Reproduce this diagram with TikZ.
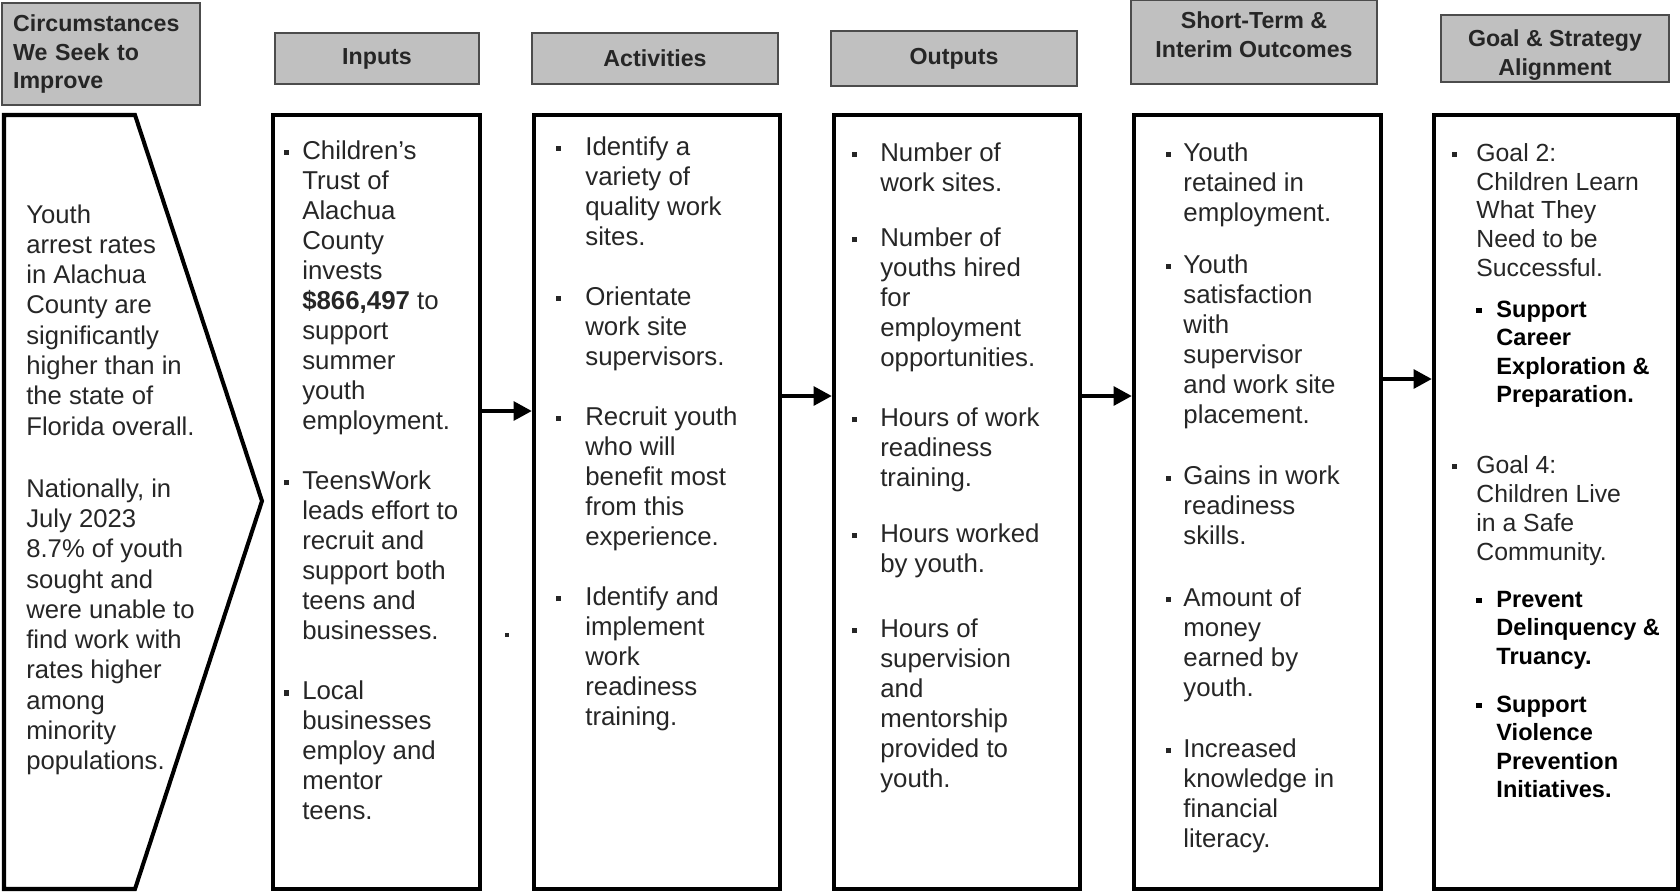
\documentclass[tikz,border=0pt]{standalone}
\usepackage{fontspec}
\setmainfont{Liberation Sans}
\usetikzlibrary{arrows.meta,fit}

\definecolor{hdrgray}{HTML}{C0C0C0}

% small square bullet and a tight bullet list
\newcommand\sqbullet{\rule[2.4pt]{2.9pt}{2.9pt}}
\newenvironment{bullets}[2]{%
  \begin{list}{\sqbullet}{%
    \setlength\leftmargin{#1}%
    \setlength\labelwidth{2.9pt}%
    \setlength\labelsep{\dimexpr#1-2.9pt\relax}%
    \setlength\itemsep{#2}%
    \setlength\parsep{0pt}%
    \setlength\topsep{0pt}%
    \setlength\partopsep{0pt}%
    \setlength\itemindent{0pt}}\raggedright}
  {\end{list}}
% two-line heading lifted by #1 inside its box
\newcommand\liftlines[2]{\raisebox{#1}[\height][\depth]{\begin{tabular}{@{}c@{}}#2\end{tabular}}}

\begin{document}
\begin{tikzpicture}[x=0.02cm, y=-0.02cm,
  hdr/.style={draw=black!70, line width=0.9pt, fill=hdrgray, inner sep=0pt,
    font=\fontsize{13.2}{16.5}\selectfont\bfseries, text=black!85, align=center},
  body/.style={draw=black, line width=2.3pt, inner sep=0pt},
  txt/.style={anchor=base west, inner sep=0pt, text=black!85,
    font=\fontsize{14.7}{17.1}\selectfont},
  flow/.style={line width=2.8pt, -{Triangle[length=10.5pt,width=10.5pt]}}]

	\useasboundingbox (0,0) rectangle (1680,894);

	% column headings
	\node[hdr, minimum width=3.96cm, minimum height=2.04cm, text width=100pt, align=left] (hcirc) at (101,54) {Circumstances\\We Seek to\\Improve};
	\node[hdr, minimum width=4.08cm, minimum height=1.02cm] (hin) at (377,58.5) {Inputs};
	\node[hdr, minimum width=4.92cm, minimum height=1.02cm] (hact) at (655,58.5) {Activities};
	\node[hdr, minimum width=4.92cm, minimum height=1.10cm] (hout) at (954,58.5) {Outputs};
	\node[hdr, minimum width=4.92cm, minimum height=1.68cm] (hst) at (1254,42) {\liftlines{3pt}{Short-Term \&\\Interim Outcomes}};
	\node[hdr, minimum width=4.56cm, minimum height=1.34cm] (hgoal) at (1555,48.5) {\liftlines{-4pt}{Goal \& Strategy\\Alignment}};

	% chevron and column boxes
	\draw[line width=2.3pt, line join=miter] (4,115) -- (135,115) -- (262,501) -- (135,889) -- (4,889) -- cycle;
	\node[body, fit={(273,115) (480,889)}] (bin) {};
	\node[body, fit={(534,115) (780,889)}] (bact) {};
	\node[body, fit={(834,115) (1080,889)}] (bout) {};
	\node[body, fit={(1134,115) (1381,889)}] (bst) {};
	\node[body, fit={(1434,115) (1678,889)}] (bgoal) {};

	\draw[flow] (bin.east |- 0,411) -- (bact.west |- 0,411);
	\draw[flow] (bact.east |- 0,396) -- (bout.west |- 0,396);
	\draw[flow] (bout.east |- 0,396) -- (bst.west |- 0,396);
	\draw[flow] (bst.east |- 0,379) -- (bgoal.west |- 0,379);

	\node[fill=black!85, inner sep=0pt, minimum size=2.7pt] (speck) at (507,635) {};

	% texts
	\node[txt, font=\fontsize{14.6}{17.25}\selectfont] (tcirc) at (26,223) {\begin{minipage}[t]{127pt}\raggedright
		Youth\\arrest rates\\in Alachua\\County are\\significantly\\higher than in\\the state of\\Florida overall.\\[18pt]
		Nationally, in\\July 2023\\8.7\% of youth\\sought and\\were unable to\\find work with\\rates higher\\among\\minority\\populations.
	\end{minipage}};

	\node[txt] (tin) at (284,159) {\begin{minipage}[t]{110pt}\begin{bullets}{10.2pt}{17.1pt}
		\item Children’s\\Trust of\\Alachua\\County\\invests\\\textbf{\$866,497} to\\support\\summer\\youth\\employment.
		\item TeensWork\\leads effort to\\recruit and\\support both\\teens and\\businesses.
		\item Local\\businesses\\employ and\\mentor\\teens.
	\end{bullets}\end{minipage}};

	\node[txt] (tact) at (556,155) {\begin{minipage}[t]{126pt}\begin{bullets}{16.5pt}{17.1pt}
		\item Identify a\\variety of\\quality work\\sites.
		\item Orientate\\work site\\supervisors.
		\item Recruit youth\\who will\\benefit most\\from this\\experience.
		\item Identify and\\implement\\work\\readiness\\training.
	\end{bullets}\end{minipage}};

	\node[txt] (tout) at (852,161) {\begin{minipage}[t]{128pt}\begin{bullets}{15.9pt}{14.5pt}
		\item Number of\\work sites.
		\item Number of\\youths hired\\for\\employment\\opportunities.\vspace{2.5pt}
		\item Hours of work\\readiness\\training.
		\item Hours worked\\by youth.\vspace{5.5pt}
		\item Hours of\\supervision\\and\\mentorship\\provided to\\youth.
	\end{bullets}\end{minipage}};

	\node[txt] (tst) at (1166,161) {\begin{minipage}[t]{121pt}\begin{bullets}{9.7pt}{17.8pt}
		\item Youth\\retained in\\employment.\vspace{-5.2pt}
		\item Youth\\satisfaction\\with\\supervisor\\and work site\\placement.
		\item Gains in work\\readiness\\skills.
		\item Amount of\\money\\earned by\\youth.
		\item Increased\\knowledge in\\financial\\literacy.
	\end{bullets}\end{minipage}};

	\node[txt, font=\fontsize{14.1}{16.5}\selectfont] (tgoal) at (1452,161) {\begin{minipage}[t]{127pt}\begin{bullets}{13.7pt}{23.8pt}
		\item Goal 2:\\Children Learn\\What They\\Need to be\\Successful.\vspace{6.7pt}
		\begin{bullets}{11.4pt}{11.3pt}\fontsize{13.4}{16.2}\selectfont\bfseries\color{black}
			\item Support\\Career\\Exploration \&\\Preparation.
		\end{bullets}
		\item Goal 4:\\Children Live\\in a Safe\\Community.\vspace{10.4pt}
		\begin{bullets}{11.4pt}{11.3pt}\fontsize{13.4}{16.2}\selectfont\bfseries\color{black}
			\item Prevent\\Delinquency \&\\Truancy.
			\item Support\\Violence\\Prevention\\Initiatives.
		\end{bullets}
	\end{bullets}\end{minipage}};

\end{tikzpicture}
\end{document}
